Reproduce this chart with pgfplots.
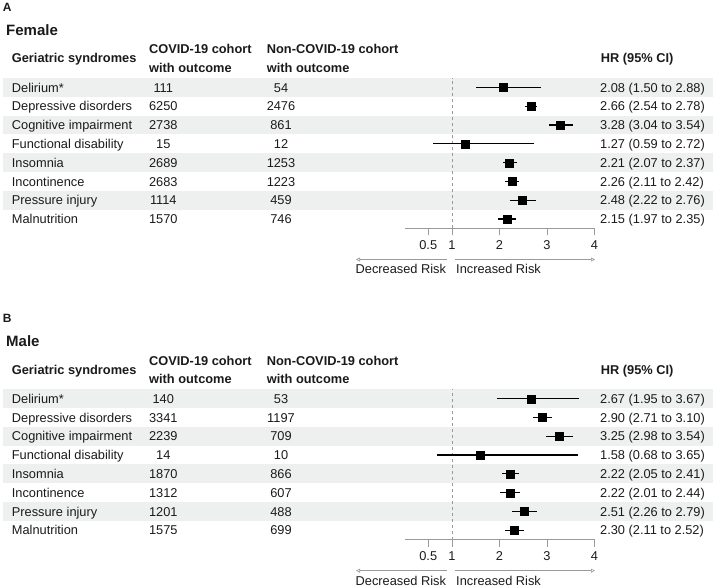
\documentclass[border=0pt]{standalone}
\usepackage{pgfplots}
\pgfplotsset{compat=1.18}
\usepackage{pgfplotstable}
\usepackage{fontspec}
\setmainfont{Liberation Sans}
\usetikzlibrary{arrows.meta}
\definecolor{band}{HTML}{EEF0EF}
\definecolor{txt}{HTML}{1A1A1A}
\definecolor{axgray}{HTML}{9A9A9A}
\newcommand\bodyfont{\fontsize{12.8pt}{15pt}\selectfont}

\pgfplotstableread{
row hr lo hi
1 2.08 1.50 2.88
2 2.66 2.54 2.78
3 3.28 3.04 3.54
4 1.27 0.59 2.72
5 2.21 2.07 2.37
6 2.26 2.11 2.42
7 2.48 2.22 2.76
8 2.15 1.97 2.35
}\femaletab

\pgfplotstableread{
row hr lo hi
1 2.67 1.95 3.67
2 2.90 2.71 3.10
3 3.25 2.98 3.54
4 1.58 0.68 3.65
5 2.22 2.05 2.41
6 2.22 2.01 2.44
7 2.51 2.26 2.79
8 2.30 2.11 2.52
}\maletab

\tikzset{t/.style={font=\bodyfont,text=txt,inner sep=0pt},
         tb/.style={font=\bfseries\bodyfont,text=txt,inner sep=0pt}}

% #1 offset, #2 letter, #3 title, #4 table, #5 rows
\newcommand\panel[5]{%
  \foreach \k in {1,3,5,7} {
    \fill[band] (3,{-(87.4+(\k-1)*18.8-9.4+#1)}) rectangle (713,{-(87.4+(\k-1)*18.8+9.4+#1)});
  }
  \node[tb, anchor=base west, font=\bfseries\fontsize{12}{14}\selectfont] at (2.7,{-(11.7+#1)}) {#2};
  \node[tb, anchor=base west, font=\bfseries\fontsize{15}{18}\selectfont] at (6,{-(35.2+#1)}) {#3};
  \node[tb, anchor=base west] at (11.7,{-(62.9+#1)}) {Geriatric syndromes};
  \node[tb, anchor=base west] at (149,{-(53.9+#1)}) {COVID-19 cohort};
  \node[tb, anchor=base west] at (149,{-(72.3+#1)}) {with outcome};
  \node[tb, anchor=base west] at (266.7,{-(53.9+#1)}) {Non-COVID-19 cohort};
  \node[tb, anchor=base west] at (266.7,{-(72.3+#1)}) {with outcome};
  \node[tb, anchor=base west] at (600.7,{-(62.9+#1)}) {HR (95\% CI)};
  \foreach \nm/\ca/\cb/\hh [count=\i] in {#5} {
    \node[t, anchor=base west] at (11.7,{-(87.4+(\i-1)*18.8+4.6+#1)}) {\nm};
    \node[t, anchor=base] at (163.3,{-(87.4+(\i-1)*18.8+4.6+#1)}) {\ca};
    \node[t, anchor=base] at (281,{-(87.4+(\i-1)*18.8+4.6+#1)}) {\cb};
    \node[t, anchor=base west] at (600,{-(87.4+(\i-1)*18.8+4.6+#1)}) {\hh};
  }
  \begin{axis}[
    at={(404.5pt,{-(228.4+#1)*1pt})}, anchor=south west,
    scale only axis, width=190pt, height=150.4pt,
    xmin=0, xmax=4, ymin=0.5, ymax=8.5,
    axis x line*=bottom, axis y line=none,
    xtick={0.5,1,2,3,4}, xticklabels={0.5,1,2,3,4},
    tick align=outside, major tick length=7pt,
    x axis line style={axgray, line width=0.8pt, -},
    every tick/.style={axgray, line width=0.8pt},
    xticklabel style={font=\bodyfont, text=txt, yshift=-1.5pt},
    /pgf/number format/assume math mode=true,
    clip=false,
  ]
    \addplot[axgray, dashed, line width=0.8pt] coordinates {(1,0.5) (1,8.5)};
    \addplot[black, only marks, mark=square*, mark size=4pt,
      mark options={solid, line width=0.1pt},
      error bars/.cd, x dir=both, x explicit, error mark=none,
      error bar style={line width=1.3pt, black}]
      table[x=hr, y expr=9-\thisrow{row},
            x error plus expr=\thisrow{hi}-\thisrow{hr},
            x error minus expr=\thisrow{hr}-\thisrow{lo}] {#4};
  \end{axis}
  \draw[axgray, line width=0.6pt, -{Triangle[open,length=4pt,width=4pt]}] (447,{-(259.5+#1)}) -- (356,{-(259.5+#1)});
  \draw[axgray, line width=0.6pt, -{Triangle[open,length=4pt,width=4pt]}] (455,{-(259.5+#1)}) -- (595,{-(259.5+#1)});
  \node[t, anchor=base west] at (355.5,{-(273.9+#1)}) {Decreased Risk};
  \node[t, anchor=base west] at (456,{-(273.9+#1)}) {Increased Risk};
}

\begin{document}
\begin{tikzpicture}[x=1pt,y=1pt]
\useasboundingbox (0,0) rectangle (715,-587);
\panel{0}{A}{Female}{\femaletab}{Delirium*/111/54/2.08 (1.50 to 2.88),
  Depressive disorders/6250/2476/2.66 (2.54 to 2.78),
  Cognitive impairment/2738/861/3.28 (3.04 to 3.54),
  Functional disability/15/12/1.27 (0.59 to 2.72),
  Insomnia/2689/1253/2.21 (2.07 to 2.37),
  Incontinence/2683/1223/2.26 (2.11 to 2.42),
  Pressure injury/1114/459/2.48 (2.22 to 2.76),
  Malnutrition/1570/746/2.15 (1.97 to 2.35)}
\panel{311.2}{B}{Male}{\maletab}{Delirium*/140/53/2.67 (1.95 to 3.67),
  Depressive disorders/3341/1197/2.90 (2.71 to 3.10),
  Cognitive impairment/2239/709/3.25 (2.98 to 3.54),
  Functional disability/14/10/1.58 (0.68 to 3.65),
  Insomnia/1870/866/2.22 (2.05 to 2.41),
  Incontinence/1312/607/2.22 (2.01 to 2.44),
  Pressure injury/1201/488/2.51 (2.26 to 2.79),
  Malnutrition/1575/699/2.30 (2.11 to 2.52)}
\end{tikzpicture}
\end{document}
